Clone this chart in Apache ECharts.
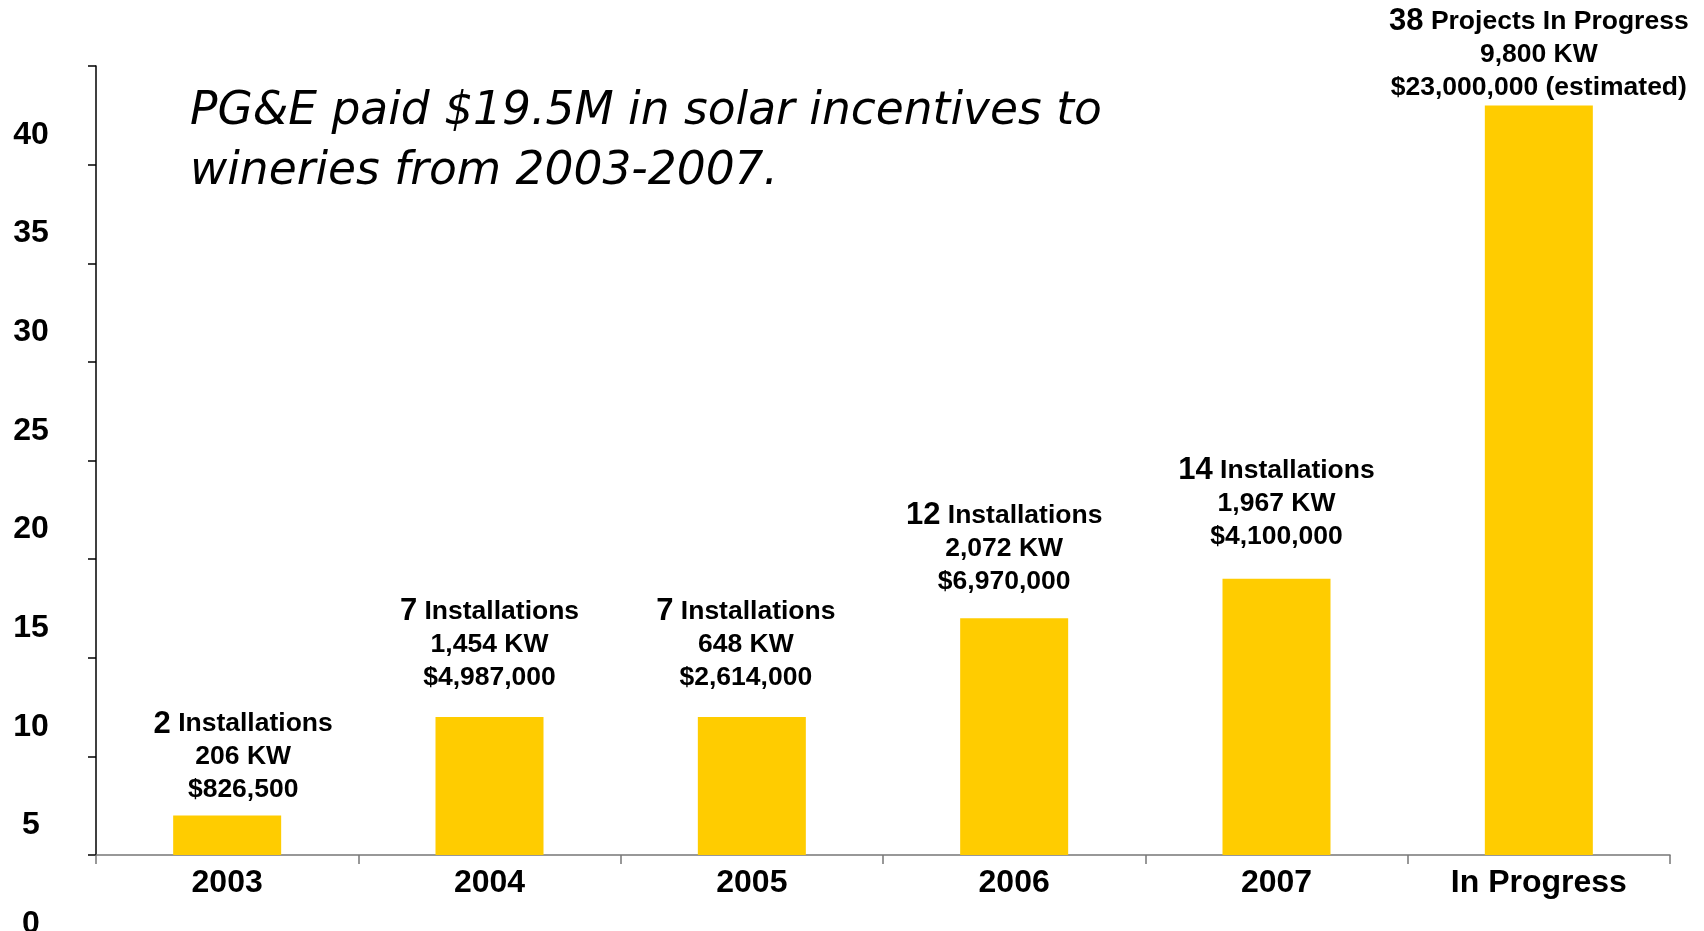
<!DOCTYPE html>
<html>
<head>
<meta charset="utf-8">
<script src="https://cdn.jsdelivr.net/npm/echarts@6/dist/echarts.min.js"></script>
<style>
html,body{margin:0;padding:0;background:#fff;}
#chart{width:1704px;height:931px;}
</style>
</head>
<body>
<div id="chart"></div>
<script>
// ---- data ----
const categories = ['2003', '2004', '2005', '2006', '2007', 'In Progress'];
const counts = [2, 7, 7, 12, 14, 38];
const countWords = ['Installations', 'Installations', 'Installations', 'Installations', 'Installations', 'Projects In Progress'];
const kwLabels = ['206 KW', '1,454 KW', '648 KW', '2,072 KW', '1,967 KW', '9,800 KW'];
const dollarLabels = ['$826,500', '$4,987,000', '$2,614,000', '$6,970,000', '$4,100,000', '$23,000,000 (estimated)'];
const yTicks = [0, 5, 10, 15, 20, 25, 30, 35, 40];
const titleText = 'PG&E paid $19.5M in solar incentives to\nwineries from 2003-2007.';

// ---- label layout (style only) ----
const labelDist = [9, 23, 23, 20, 26, 1];
const labelShiftX = [16, 0, -6, -10, 0, 0];

const chart = echarts.init(document.getElementById('chart'), null, {renderer: 'canvas'});

const seriesData = counts.map((v, i) => ({
  value: v,
  label: {
    distance: labelDist[i],
    offset: [labelShiftX[i], 0],
    formatter: '{n|' + counts[i] + '}{t| ' + countWords[i] + '}\n{t|' + kwLabels[i] + '}\n{t|' + dollarLabels[i] + '}'
  }
}));

chart.setOption({
  animation: false,
  backgroundColor: '#ffffff',
  title: {
    text: titleText,
    left: 190,
    top: 82,
    padding: 0,
    textStyle: {
      fontFamily: 'DejaVu Sans',
      fontStyle: 'italic',
      fontWeight: 'normal',
      fontSize: 45.5,
      lineHeight: 60,
      color: '#000'
    }
  },
  grid: {left: 96, right: 34, top: 66, bottom: 76, containLabel: false, outerBoundsMode: 'none'},
  xAxis: {
    type: 'category',
    data: categories,
    boundaryGap: true,
    axisLine: {lineStyle: {color: '#777', width: 1.5}},
    axisTick: {show: true, length: 9, inside: false, lineStyle: {color: '#777', width: 1.5}},
    axisLabel: {
      margin: 12,
      fontFamily: 'Liberation Sans',
      fontWeight: 'bold',
      fontSize: 32,
      color: '#000'
    }
  },
  yAxis: {
    type: 'value',
    min: yTicks[0],
    max: yTicks[yTicks.length - 1],
    interval: yTicks[1] - yTicks[0],
    splitLine: {show: false},
    axisLine: {show: true, lineStyle: {color: '#000', width: 1.5}},
    axisTick: {show: true, length: 8, lineStyle: {color: '#000', width: 1.5}},
    axisLabel: {
      margin: 65,
      align: 'center',
      verticalAlign: 'top',
      padding: [53, 0, 0, 0],
      lineHeight: 32,
      fontFamily: 'Liberation Sans',
      fontWeight: 'bold',
      fontSize: 32,
      color: '#000'
    }
  },
  series: [{
    type: 'bar',
    data: seriesData,
    barWidth: 108,
    itemStyle: {color: '#FFCC00'},
    label: {
      show: true,
      position: 'top',
      align: 'center',
      color: '#000',
      fontFamily: 'Liberation Sans',
      fontWeight: 'bold',
      rich: {
        n: {fontSize: 31, fontWeight: 'bold', fontFamily: 'Liberation Sans', color: '#000', lineHeight: 33},
        t: {fontSize: 26.5, fontWeight: 'bold', fontFamily: 'Liberation Sans', color: '#000', lineHeight: 33}
      }
    }
  }]
});
</script>
</body>
</html>
